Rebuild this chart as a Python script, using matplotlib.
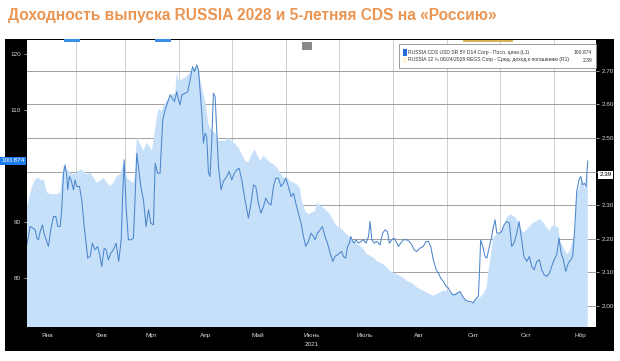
import matplotlib
matplotlib.use('Agg')
import matplotlib.pyplot as plt
import matplotlib.dates as mdates
import matplotlib.transforms as mtransforms
from matplotlib.patches import Rectangle
import pandas as pd
import numpy as np

# ---------------- data (day offsets from 2021-01-01) ----------------
title = "Доходность выпуска RUSSIA 2028 и 5-летняя CDS на «Россию»"
legend_cds = "RUSSIA CDS USD SR 5Y D14 Corp - Посл. цена (L1)"
legend_bond = "RUSSIA 12 ¾ 06/24/2028 REGS Corp - Сред. доход к погашению (R1)"
last_cds_label = "100.874"
last_yld_label = "2.39"
month_labels = ["Янв", "Фев", "Мрт", "Апр", "Май", "Июнь", "Июль", "Авг", "Снт", "Окт", "Нбр"]
year_label = "2021"

# RUSSIA 12 3/4 2028 yield (right axis, area)
yld_days = [3.1, 6.0, 7.9, 9.8, 11.7, 12.7, 14.6, 16.5, 18.4, 20.3,
            22.2, 24.1, 26.0, 27.9, 29.8, 31.7, 33.6, 35.5, 37.4, 39.3,
            41.2, 43.1, 45.0, 46.9, 48.8, 50.7, 52.6, 54.5, 56.4, 58.3,
            60.2, 62.1, 64.0, 64.9, 65.9, 67.8, 69.7, 71.6, 73.5, 74.5,
            75.4, 77.3, 78.3, 80.2, 81.1, 83.0, 84.9,
            85.9, 87.8, 88.7, 89.7, 91.6, 93.5, 95.4, 97.3, 99.2, 101.1,
            102.0, 103.0, 104.9, 106.8, 108.7, 110.6, 112.5, 114.4, 116.3, 118.2,
            120.1, 122.0, 123.9, 125.8, 127.7, 129.6, 131.5, 133.0, 134.4, 136.3,
            138.2, 140.1, 142.0, 143.9, 145.8, 147.7, 149.6, 151.5, 153.4, 155.3,
            157.2, 159.1, 160.0, 161.9, 163.8, 165.7, 167.6,
            168.6, 170.5, 172.4, 174.3, 176.2, 178.1, 180.0, 181.9, 183.8, 185.7,
            187.6, 189.5, 191.4, 193.3, 195.2, 197.1, 199.0, 200.9, 202.8, 204.7,
            206.6, 208.5, 210.4, 212.3, 214.2, 216.1, 218.0, 219.9, 221.8, 223.7,
            225.6, 227.5, 229.4, 231.3, 233.2, 235.1, 237.0, 238.9, 240.8, 242.7,
            244.6, 246.5, 248.4,
            250.3, 252.2, 254.1, 256.0, 257.9, 259.8, 261.7, 263.6, 265.5, 266.5,
            267.5, 268.4, 269.4, 271.3, 273.2, 275.1, 277.0, 278.9, 280.8, 282.7,
            284.6, 286.5, 288.4, 290.3, 292.2, 294.1, 296.0, 297.9, 299.8, 301.7,
            302.6, 304.5, 306.4, 307.4, 309.3, 311.2, 313.1, 314.6, 315.9, 316.9,
            318.4, 319.7, 321.1, 322.2, 323.2]
yld_vals = [2.293, 2.353, 2.377, 2.382, 2.372, 2.377, 2.338, 2.333, 2.333, 2.333,
            2.338, 2.417, 2.407, 2.397, 2.392, 2.397, 2.407, 2.402, 2.392, 2.397,
            2.382, 2.367, 2.372, 2.382, 2.367, 2.357, 2.367, 2.387, 2.392, 2.427,
            2.382, 2.372, 2.367, 2.392, 2.501, 2.482, 2.462, 2.487, 2.472, 2.462,
            2.492, 2.561, 2.586, 2.581, 2.596, 2.611, 2.621,
            2.631, 2.631, 2.695, 2.670, 2.675, 2.680, 2.690, 2.700, 2.710, 2.710,
            2.680, 2.650, 2.611, 2.541, 2.521, 2.516, 2.492, 2.492, 2.492, 2.501,
            2.492, 2.482, 2.472, 2.452, 2.432, 2.427, 2.452, 2.467, 2.452, 2.432,
            2.447, 2.437, 2.427, 2.422, 2.412, 2.397, 2.382, 2.382, 2.372, 2.367,
            2.362, 2.348, 2.313, 2.283, 2.273, 2.278, 2.283,
            2.308, 2.298, 2.293, 2.283, 2.273, 2.253, 2.238, 2.233, 2.223, 2.213,
            2.204, 2.194, 2.184, 2.179, 2.169, 2.154, 2.149, 2.144, 2.134, 2.129,
            2.124, 2.114, 2.104, 2.099, 2.094, 2.089, 2.084, 2.074, 2.070, 2.065,
            2.055, 2.050, 2.045, 2.040, 2.035, 2.030, 2.035, 2.040, 2.045, 2.045,
            2.040, 2.035, 2.040,
            2.040, 2.025, 2.015, 2.010, 2.010, 2.020, 2.025, 2.035, 2.055, 2.104,
            2.134, 2.174, 2.204, 2.214, 2.218, 2.233, 2.263, 2.273, 2.268, 2.258,
            2.233, 2.218, 2.228, 2.238, 2.248, 2.253, 2.258, 2.248, 2.233, 2.223,
            2.238, 2.238, 2.233, 2.194, 2.174, 2.154, 2.164, 2.194, 2.223, 2.333,
            2.353, 2.382, 2.353, 2.353, 2.390]

# RUSSIA CDS 5Y (left axis, line)
cds_days = [3.1, 4.1, 5.0, 6.6, 7.9, 8.9, 9.8, 10.8, 12.1, 13.0,
            14.2, 15.5, 16.8, 18.4, 19.7, 20.8, 22.2, 23.1, 24.1, 25.0,
            26.0, 26.5, 27.5, 28.4, 29.8, 30.7, 31.7, 33.2, 34.5, 35.9,
            37.0, 37.9, 39.3, 40.6, 42.1, 43.5, 44.6, 45.9, 47.3, 48.4,
            49.7, 51.1, 52.6, 54.1, 55.6, 57.0, 57.9, 58.7, 59.8, 61.1,
            62.5, 64.0, 64.9, 65.9, 66.8, 68.2, 69.7, 71.2, 72.6, 73.9,
            75.4, 76.4, 77.7, 79.2, 80.7, 82.1, 84.0,
            84.9, 86.2, 87.4, 88.7, 89.7, 90.6, 91.6, 93.5, 95.0, 96.3,
            97.7, 98.8, 100.1, 101.1, 102.0, 103.0, 103.9, 104.9, 105.8, 106.8,
            107.7, 108.7, 109.6, 110.6, 111.5, 112.5, 114.0, 115.3, 117.2, 118.6,
            120.1, 121.6, 122.9, 124.3, 125.8, 127.3, 128.7, 129.6, 131.1, 132.5,
            133.8, 135.3, 136.8, 138.2, 139.5, 141.0, 142.5, 143.9, 145.2, 146.7,
            148.2, 149.6, 150.9, 152.4, 153.9, 155.3, 156.6, 158.1, 159.6, 161.0,
            162.3, 163.8, 165.4, 166.7,
            167.6, 169.0, 170.5, 171.8, 173.3, 174.7, 176.2, 177.7, 179.0, 180.4,
            181.5, 182.8, 183.8, 185.1, 186.1, 187.2, 188.0, 189.1, 190.1, 191.0,
            192.3, 193.7, 195.2, 196.7, 198.1, 199.0, 200.0, 201.3, 202.8, 204.7,
            206.2, 207.6, 208.9, 210.0, 211.4, 212.7, 213.8, 215.2, 216.5, 218.0,
            219.9, 221.4, 222.8, 224.1, 225.6, 227.5, 229.4, 230.9, 232.3, 233.6,
            235.1, 236.7, 238.0, 239.3, 240.8, 242.4, 243.7, 244.6, 246.2, 247.5,
            248.8,
            250.3, 251.9, 253.2, 255.1, 256.4, 257.9, 258.9, 259.8, 260.8, 261.4,
            262.1, 263.3, 264.6, 265.6, 267.1, 268.4, 269.4, 270.3, 271.3, 272.8,
            274.1, 275.4, 277.0, 278.5, 279.8, 281.1, 282.7, 284.0, 285.5, 286.8,
            288.4, 289.9, 291.2, 292.6, 294.1, 295.6, 296.9, 298.3, 299.8, 301.3,
            302.6, 304.0, 305.5, 306.8, 308.0, 309.3, 310.6, 312.1, 313.5, 314.6,
            315.6, 316.9, 318.2, 319.2, 320.3, 321.3, 322.2, 323.2]
cds_vals = [85.89, 87.38, 89.17, 88.87, 88.57, 87.08, 86.79, 88.27, 89.46, 87.98,
            86.79, 85.60, 88.57, 90.95, 90.95, 89.17, 89.17, 92.14, 98.69, 100.18,
            98.10, 95.71, 98.10, 97.50, 95.71, 97.50, 96.31, 96.31, 93.93, 89.17,
            86.19, 83.51, 83.81, 86.19, 85.00, 85.60, 84.40, 82.02, 85.30, 85.00,
            83.21, 84.40, 85.00, 86.19, 82.92, 86.79, 95.12, 101.07, 92.74, 86.79,
            86.79, 87.08, 93.93, 102.26, 99.88, 96.31, 93.93, 89.17, 92.14, 89.76,
            89.46, 100.48, 98.69, 98.69, 108.21, 110.00, 111.79,
            112.68, 112.08, 111.49, 113.27, 111.79, 110.89, 112.68, 112.98, 113.27, 115.36,
            117.74, 116.85, 118.04, 117.14, 113.57, 109.40, 104.05, 105.83, 105.24, 98.69,
            98.10, 104.64, 112.98, 112.38, 106.43, 99.88, 95.71, 97.20, 98.10, 98.99,
            97.50, 98.69, 99.29, 99.58, 97.50, 94.52, 92.14, 90.65, 93.33, 96.61,
            96.31, 93.33, 91.55, 92.74, 94.23, 93.33, 93.04, 96.31, 97.80, 97.80,
            96.31, 96.90, 97.80, 96.31, 94.52, 95.12, 93.33, 91.55, 89.76, 87.38,
            85.60, 86.49, 87.98, 87.38,
            86.79, 87.98, 88.57, 89.17, 87.38, 86.19, 84.40, 82.92, 83.81, 84.11,
            84.40, 84.70, 83.81, 83.51, 85.60, 86.19, 87.38, 86.49, 86.19, 86.79,
            86.19, 86.49, 86.79, 86.19, 87.38, 90.06, 86.79, 86.19, 86.49, 85.89,
            87.98, 88.57, 88.27, 86.19, 86.79, 87.08, 86.49, 85.60, 86.19, 86.79,
            86.79, 86.49, 85.89, 85.00, 84.70, 85.30, 85.60, 86.49, 86.49, 85.60,
            83.21, 81.43, 80.83, 79.94, 79.35, 78.45, 78.15, 77.56, 76.96, 76.96,
            77.26,
            77.56, 76.67, 76.07, 75.77, 75.77, 75.48, 76.07, 76.37, 76.67, 80.83,
            86.79, 85.60, 83.81, 83.51, 85.60, 87.38, 89.17, 90.36, 87.98, 87.98,
            88.27, 89.46, 90.06, 89.76, 85.60, 86.19, 87.98, 90.06, 86.79, 83.81,
            82.92, 83.81, 82.02, 81.43, 82.92, 83.21, 81.43, 80.54, 80.24, 80.83,
            82.02, 83.21, 84.11, 87.08, 84.40, 83.21, 81.13, 82.62, 83.21, 83.81,
            87.98, 95.42, 97.50, 98.10, 96.61, 96.90, 96.31, 100.874]

yld_ticks = [2.0, 2.1, 2.2, 2.3, 2.4, 2.5, 2.6, 2.7]
yld_tick_labels = ["2.00", "2.10", "2.20", "2.30", "", "2.50", "2.60", "2.70"]
cds_ticks = [80, 90, 110, 120]
cds_tick_labels = ["80", "90", "110", "120"]

# ---------------- drawing ----------------
BASE = pd.Timestamp('2021-01-01')
def to_dates(days):
    return BASE + pd.to_timedelta(np.array(days), unit='D')

W, H = 620, 361
def fx(px):
    return px / W
def fy(py):
    return 1 - py / H

plt.rcParams['font.family'] = ['Liberation Sans', 'DejaVu Sans']

fig = plt.figure(figsize=(6.2, 3.61), dpi=100)
fig.patch.set_facecolor('white')

# title
fig.text(fx(8), fy(20), title, fontsize=11.2, fontweight='bold',
         color='#EA9552', ha='left', va='baseline')

# black terminal frame
fig.add_artist(Rectangle((fx(5), fy(351)), fx(609), (351 - 39) / H,
                         transform=fig.transFigure, facecolor='black',
                         edgecolor='none', zorder=0))

ax_l, ax_r, ax_t, ax_b = 26.7, 596, 40, 327
ax = fig.add_axes([fx(ax_l), fy(ax_b), fx(ax_r - ax_l), (ax_b - ax_t) / H])
ax.set_facecolor('white')

yd = to_dates(yld_days)
ax.fill_between(yd, yld_vals, 1.5, color='#C7E0F9', lw=0, zorder=2)
ax.set_ylim(1.937, 2.792)
ax.set_xlim(to_dates([3.1])[0], to_dates([327.9])[0])

month_starts = pd.date_range('2021-02-01', '2021-11-01', freq='MS')
ax.set_xticks(month_starts)
ax.set_xticklabels([''] * len(month_starts))
mids = [pd.Timestamp(2021, m, 16) for m in range(1, 12)]
ax.set_xticks(mids, minor=True)
ax.set_xticklabels(month_labels, minor=True)
ax.tick_params(axis='x', which='major', length=0)
ax.tick_params(axis='x', which='minor', length=0, colors='#d8d8d8', labelsize=4.6, pad=4.5)
ax.grid(axis='x', which='major', color='#c9cfd6', lw=0.7, zorder=3)
for s in ax.spines.values():
    s.set_visible(False)

blend_x = mtransforms.blended_transform_factory(ax.transData, ax.transAxes)
ax.text(mdates.date2num(pd.Timestamp(2021, 6, 16)), -0.062, year_label,
        transform=blend_x, ha='center', va='center', fontsize=4.6, color='#d8d8d8')

# CDS line on twin axis (left)
ax2 = ax.twinx()
ax2.plot(to_dates(cds_days), cds_vals, color='#4C86CC', lw=0.75, zorder=4)
ax2.set_ylim(71.2, 122.5)
ax2.yaxis.set_ticks_position('left')
ax2.yaxis.set_label_position('left')
ax2.set_yticks(cds_ticks)
ax2.set_yticklabels(cds_tick_labels)
ax2.tick_params(axis='y', which='both', left=True, right=False, labelleft=True, labelright=False,
                colors='#d8d8d8', labelsize=4.6, length=2.5, width=0.5, pad=1.5)
for s in ax2.spines.values():
    s.set_visible(False)

# yield axis on the right (set after twinx, which moves it)
ax.yaxis.set_ticks_position('right')
ax.set_yticks(yld_ticks)
ax.set_yticklabels(yld_tick_labels)
ax.tick_params(axis='y', which='both', left=False, right=True, labelleft=False, labelright=True,
               colors='#d8d8d8', labelsize=4.6, length=2.5, width=0.5, pad=1.5)
ax.grid(axis='y', color='#a0a0a0', lw=0.7, zorder=3)

# last-value boxes
bl = mtransforms.blended_transform_factory(ax2.transAxes, ax2.transData)
ax2.text(-0.004, float(last_cds_label), last_cds_label, transform=bl, ha='right', va='center',
         fontsize=4.6, color='white',
         bbox=dict(boxstyle='square,pad=0.25', fc='#1F7BEA', ec='none'))
br = mtransforms.blended_transform_factory(ax.transAxes, ax.transData)
ax2.text(1.006, float(last_yld_label), last_yld_label, transform=br, ha='left', va='center',
         fontsize=4.6, color='black',
         bbox=dict(boxstyle='square,pad=0.25', fc='white', ec='none'))

# legend box
fig.add_artist(Rectangle((fx(399), fy(68)), fx(197), (68 - 44) / H,
                         transform=fig.transFigure, facecolor='white',
                         edgecolor='#8c8c8c', lw=0.6, zorder=5))
fig.add_artist(Rectangle((fx(402.5), fy(56)), fx(4), 7 / H,
                         transform=fig.transFigure, facecolor='#1F6FD6',
                         edgecolor='none', zorder=6))
fig.add_artist(Rectangle((fx(402.5), fy(63)), fx(4), 6 / H,
                         transform=fig.transFigure, facecolor='#FFF6D8',
                         edgecolor='none', zorder=6))
fig.text(fx(408), fy(52.5), legend_cds, fontsize=3.6, color='#333333', va='center', ha='left', zorder=7)
fig.text(fx(408), fy(60), legend_bond, fontsize=3.6, color='#333333', va='center', ha='left', zorder=7)
fig.text(fx(592), fy(52.5), last_cds_label, fontsize=3.6, color='#333333', va='center', ha='right', zorder=7)
fig.text(fx(592), fy(60), last_yld_label, fontsize=3.6, color='#333333', va='center', ha='right', zorder=7)

# small terminal UI marks
fig.add_artist(Rectangle((fx(302), fy(50)), fx(10), 8 / H, transform=fig.transFigure,
                         facecolor='#8a8a8a', edgecolor='none', zorder=6))
for x0, x1 in [(64, 80), (155, 171)]:
    fig.add_artist(Rectangle((fx(x0), fy(41.5)), fx(x1 - x0), 2.5 / H, transform=fig.transFigure,
                             facecolor='#3A8FEA', edgecolor='none', zorder=6))
fig.add_artist(Rectangle((fx(463), fy(41.5)), fx(50), 2 / H, transform=fig.transFigure,
                         facecolor='#D9B45A', edgecolor='none', zorder=6))

fig.savefig('out.png', dpi=100, facecolor='white')
